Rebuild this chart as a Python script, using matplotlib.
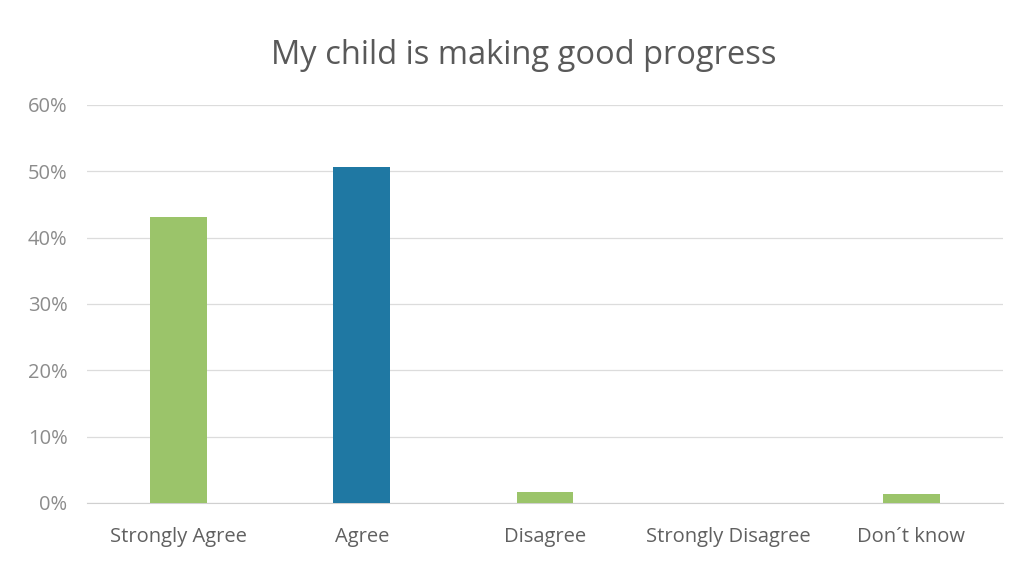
import matplotlib
matplotlib.use('Agg')
from matplotlib import pyplot as plt
import numpy as np

plt.rcParams['font.family'] = ['Open Sans', 'DejaVu Sans']

categories = ["Strongly Agree", "Agree", "Disagree", "Strongly Disagree", "Don´t know"]
values = [43.1, 50.6, 1.6, 0.0, 1.4]
bar_colors = ['#9bc46a', '#1f78a3', '#9bc46a', '#9bc46a', '#9bc46a']
yticks = [0, 10, 20, 30, 40, 50, 60]

fig = plt.figure(figsize=(10.24, 5.63), dpi=100)
ax = fig.add_axes([0.085, 0.1066, 0.8945, 0.707])

x = np.arange(len(categories))
ax.bar(x, values, width=0.31, color=bar_colors, zorder=3)

ax.set_xlim(-0.5, len(categories) - 0.5)
ax.set_ylim(0, 60)
ax.set_yticks(yticks)
ax.set_yticklabels([f"{t}%" for t in yticks])
ax.set_xticks(x)
ax.set_xticklabels(categories)

ax.grid(axis='y', color='#dcdcdc', linewidth=0.9, zorder=0)
for s in ['top', 'right', 'left']:
    ax.spines[s].set_visible(False)
ax.spines['bottom'].set_color('#d0d0d0')
ax.tick_params(axis='both', length=0, labelsize=14.5)
ax.tick_params(axis='x', pad=17, colors='#606060')
ax.tick_params(axis='y', pad=14, colors='#8c8c8c')

fig.text(0.511, 0.901, "My child is making good progress", ha='center', va='center',
         fontsize=23.5, color='#595959')

fig.savefig('out.png', dpi=100)
